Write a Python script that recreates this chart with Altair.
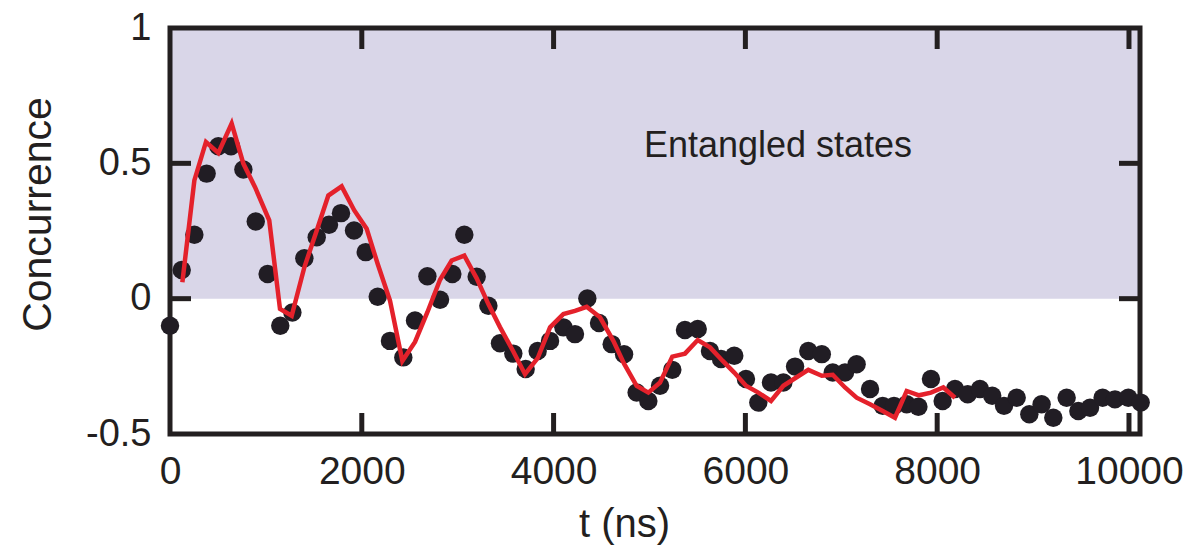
import altair as alt
import pandas as pd

# measured concurrence (dots)
t_ns = [0, 122, 254, 382, 504, 636, 765, 894, 1018, 1150, 1276, 1401, 1530, 1658, 1783,
        1919, 2041, 2166, 2294, 2433, 2555, 2684, 2816, 2944, 3069, 3198, 3320, 3441,
        3580, 3709, 3834, 3963, 4102, 4223, 4352, 4474, 4606, 4735, 4866, 4988, 5110,
        5238, 5370, 5503, 5631, 5746, 5884, 6006, 6135, 6267, 6396, 6518, 6656, 6797,
        6911, 7039, 7160, 7300, 7432, 7550, 7682, 7804, 7935, 8057, 8186, 8318, 8446,
        8574, 8697, 8829, 8961, 9089, 9211, 9350, 9472, 9594, 9725, 9854, 9993, 10122]
conc = [-0.100, 0.106, 0.236, 0.462, 0.563, 0.563, 0.477, 0.285, 0.091, -0.100, -0.051,
        0.149, 0.227, 0.273, 0.316, 0.252, 0.172, 0.007, -0.156, -0.217, -0.081, 0.083,
        -0.004, 0.091, 0.236, 0.081, -0.026, -0.165, -0.203, -0.260, -0.193, -0.156,
        -0.106, -0.131, 0.001, -0.090, -0.168, -0.205, -0.347, -0.378, -0.322, -0.263,
        -0.116, -0.112, -0.193, -0.223, -0.211, -0.297, -0.384, -0.310, -0.310, -0.251,
        -0.193, -0.205, -0.273, -0.273, -0.242, -0.334, -0.396, -0.396, -0.390, -0.399,
        -0.297, -0.378, -0.334, -0.353, -0.334, -0.359, -0.396, -0.366, -0.427, -0.390,
        -0.440, -0.366, -0.415, -0.403, -0.366, -0.372, -0.366, -0.384]

# simulated concurrence (red line)
fit_t = [129, 254, 375, 504, 643, 765, 887, 1035, 1147, 1269, 1401, 1530, 1651, 1790,
         1922, 2051, 2166, 2294, 2423, 2555, 2684, 2816, 2937, 3069, 3198, 3320, 3441,
         3580, 3702, 3834, 3963, 4102, 4223, 4345, 4484, 4623, 4735, 4866, 4988, 5110,
         5238, 5370, 5503, 5631, 5764, 5884, 6006, 6135, 6267, 6396, 6518, 6656, 6797,
         6911, 7039, 7160, 7300, 7432, 7560, 7682, 7811, 7935, 8064, 8186]
fit_c = [0.061, 0.437, 0.579, 0.538, 0.647, 0.499, 0.412, 0.289, -0.038, -0.063, 0.116,
         0.252, 0.381, 0.415, 0.326, 0.258, 0.128, -0.007, -0.230, -0.160, -0.050, 0.070,
         0.141, 0.159, 0.075, -0.020, -0.105, -0.195, -0.279, -0.220, -0.106, -0.057,
         -0.045, -0.030, -0.069, -0.156, -0.240, -0.322, -0.347, -0.310, -0.214, -0.203,
         -0.153, -0.180, -0.230, -0.273, -0.322, -0.347, -0.378, -0.322, -0.294, -0.263,
         -0.285, -0.281, -0.328, -0.366, -0.390, -0.415, -0.440, -0.341, -0.357, -0.347,
         -0.328, -0.366]

x_ticks = [0, 2000, 4000, 6000, 8000, 10000]
y_ticks = [-0.5, 0, 0.5, 1]
x_domain = [0, 10115]
y_domain = [-0.5, 1]
region = {"t0": [0], "t1": [10115], "c0": [0], "c1": [1]}
note = {"t": [6340], "c": [0.522], "label": ["Entangled states"]}

W, H = 970, 406
INK = "#231f20"
FONT = "Liberation Sans"

x_scale = alt.Scale(domain=x_domain, nice=False, zero=False)
y_scale = alt.Scale(domain=y_domain, nice=False, zero=False)
x_axis = alt.Axis(values=x_ticks, labelExpr="toString(datum.value)", domain=False,
                  ticks=False, tickSize=0, grid=False, labelFlush=False, labelOverlap=False,
                  labelFont=FONT, labelFontSize=39, labelColor=INK, labelBaseline="alphabetic",
                  labelPadding=49, titleFont=FONT, titleFontSize=40, titleFontWeight="normal",
                  titleColor=INK, titleX=454, titleY=102, titleAlign="center",
                  titleBaseline="alphabetic")
y_axis = alt.Axis(values=y_ticks, labelExpr="toString(datum.value)", domain=False,
                  ticks=False, tickSize=0, grid=False, labelOverlap=False,
                  labelFont=FONT, labelFontSize=38, labelColor=INK, labelPadding=19,
                  titleFont=FONT, titleFontSize=41, titleFontWeight="normal", titleColor=INK,
                  titleAngle=270, titleX=-120, titleY=186, titleAlign="center",
                  titleBaseline="alphabetic")


def X(field):
    return alt.X(field, type="quantitative", scale=x_scale, axis=x_axis, title="t (ns)")


def Y(field):
    return alt.Y(field, type="quantitative", scale=y_scale, axis=y_axis, title="Concurrence")


shade = alt.Chart(pd.DataFrame(region)).mark_rect(color="#d9d6e8").encode(
    x=X("t0"), x2="t1", y=Y("c0"), y2="c1")

frame = alt.Chart(alt.Data(values=[{}])).mark_rect(
    fill="transparent", stroke=INK, strokeWidth=5).encode(
    x=alt.value(0), x2=alt.value(W), y=alt.value(0), y2=alt.value(H))

xt = pd.DataFrame({"t": [v for v in x_ticks if v > x_domain[0]]})
yt = pd.DataFrame({"c": [v for v in y_ticks if y_domain[0] < v < y_domain[1]]})
tick_style = dict(color=INK, strokeWidth=5)
tb = alt.Chart(xt).mark_rule(**tick_style).encode(x=X("t"), y=alt.value(H), y2=alt.value(H - 21))
tt = alt.Chart(xt).mark_rule(**tick_style).encode(x=X("t"), y=alt.value(0), y2=alt.value(21))
tl = alt.Chart(yt).mark_rule(**tick_style).encode(y=Y("c"), x=alt.value(0), x2=alt.value(21))
tr = alt.Chart(yt).mark_rule(**tick_style).encode(y=Y("c"), x=alt.value(W - 21), x2=alt.value(W))

dots = alt.Chart(pd.DataFrame({"t": t_ns, "c": conc})).mark_circle(
    size=340, color="#211d24", opacity=1).encode(x=X("t"), y=Y("c"))

line = alt.Chart(pd.DataFrame({"t": fit_t, "c": fit_c})).mark_line(
    color="#e4212b", strokeWidth=4.5, strokeJoin="miter").encode(x=X("t"), y=Y("c"))

text = alt.Chart(pd.DataFrame(note)).mark_text(
    font=FONT, fontSize=36, color=INK, align="center", baseline="alphabetic").encode(
    x=X("t"), y=Y("c"), text="label:N")

chart = alt.layer(shade, frame, tb, tt, tl, tr, dots, line, text).properties(
    width=W, height=H,
    padding={"left": 170, "top": 28, "right": 52, "bottom": 112},
    autosize=alt.AutoSizeParams(type="none"),
    background="white",
).configure_view(strokeWidth=0)

chart.save("out.html", embed_options={"renderer": "svg", "actions": False})
